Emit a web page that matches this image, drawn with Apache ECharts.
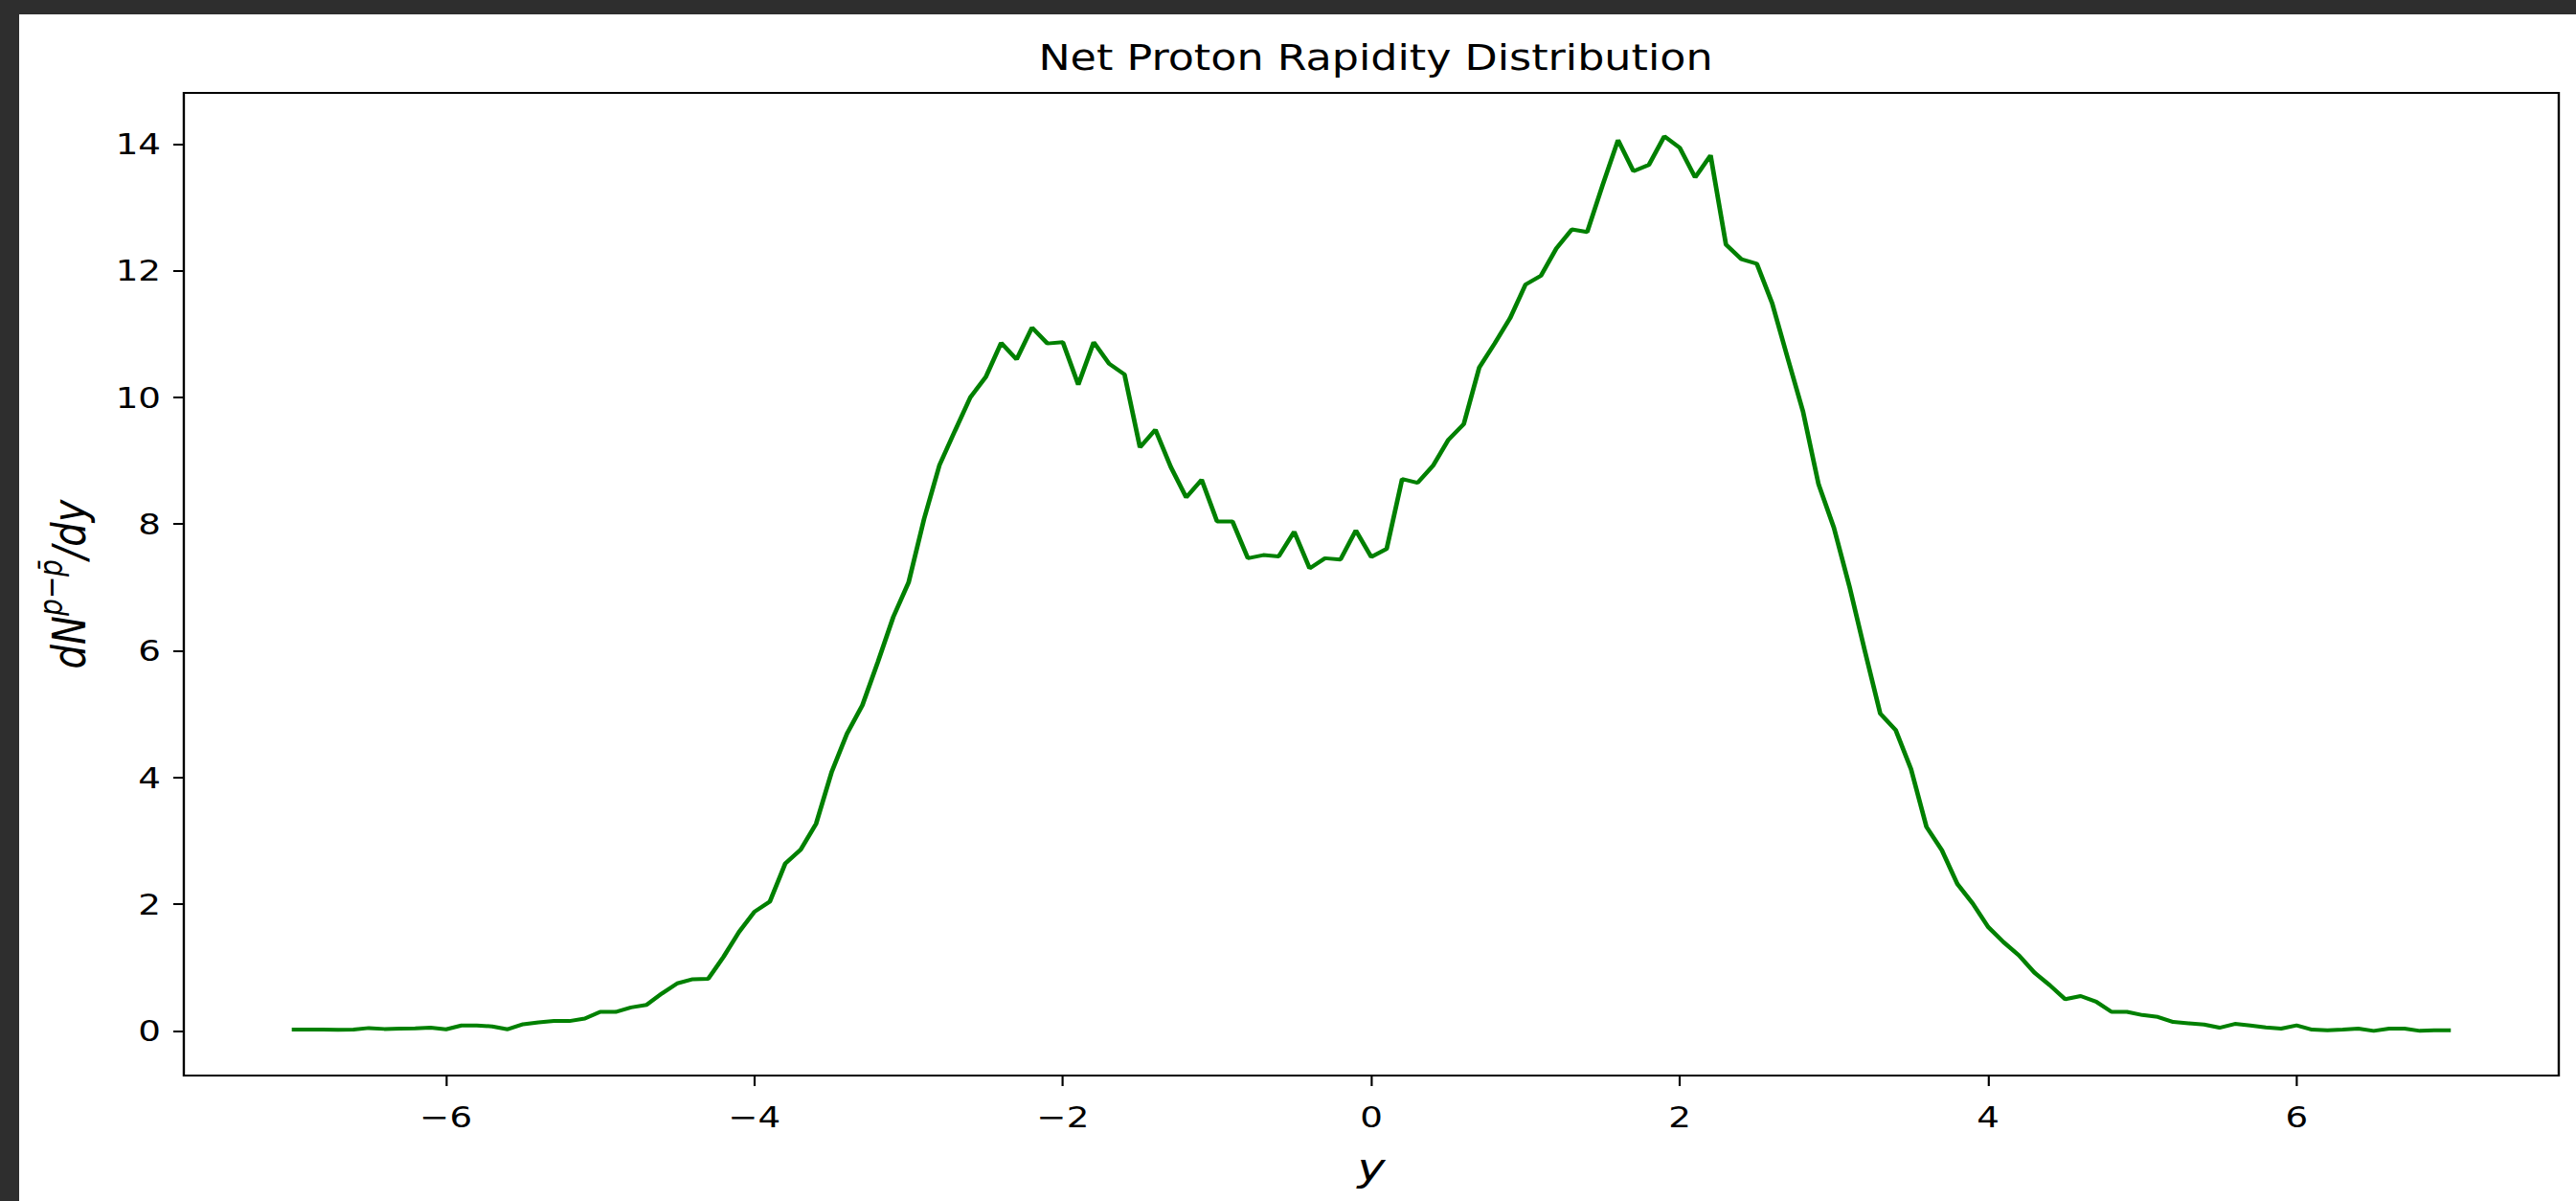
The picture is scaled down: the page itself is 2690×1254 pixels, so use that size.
<!DOCTYPE html>
<html>
<head>
<meta charset="utf-8">
<script src="https://cdn.jsdelivr.net/npm/echarts@6/dist/echarts.min.js"></script>
<style>
html, body { margin: 0; padding: 0; width: 2690px; height: 1254px; background: #2e2e2e; overflow: hidden; }
#chart { position: absolute; left: 20px; top: 15px; width: 2225px; height: 1239px; background: #ffffff;
         transform: scaleX(1.2); transform-origin: 0 0; }
</style>
</head>
<body>
<div id="chart"></div>
<script>
// Rapidity bins (y)
const rapidity = [
  -7.0, -6.9, -6.8, -6.7, -6.6, -6.5, -6.4, -6.3, -6.2, -6.1,
  -6.0, -5.9, -5.8, -5.7, -5.6, -5.5, -5.4, -5.3, -5.2, -5.1,
  -5.0, -4.9, -4.8, -4.7, -4.6, -4.5, -4.4, -4.3, -4.2, -4.1,
  -4.0, -3.9, -3.8, -3.7, -3.6, -3.5, -3.4, -3.3, -3.2, -3.1,
  -3.0, -2.9, -2.8, -2.7, -2.6, -2.5, -2.4, -2.3, -2.2, -2.1,
  -2.0, -1.9, -1.8, -1.7, -1.6, -1.5, -1.4, -1.3, -1.2, -1.1,
  -1.0, -0.9, -0.8, -0.7, -0.6, -0.5, -0.4, -0.3, -0.2, -0.1,
   0.0,  0.1,  0.2,  0.3,  0.4,  0.5,  0.6,  0.7,  0.8,  0.9,
   1.0,  1.1,  1.2,  1.3,  1.4,  1.5,  1.6,  1.7,  1.8,  1.9,
   2.0,  2.1,  2.2,  2.3,  2.4,  2.5,  2.6,  2.7,  2.8,  2.9,
   3.0,  3.1,  3.2,  3.3,  3.4,  3.5,  3.6,  3.7,  3.8,  3.9,
   4.0,  4.1,  4.2,  4.3,  4.4,  4.5,  4.6,  4.7,  4.8,  4.9,
   5.0,  5.1,  5.2,  5.3,  5.4,  5.5,  5.6,  5.7,  5.8,  5.9,
   6.0,  6.1,  6.2,  6.3,  6.4,  6.5,  6.6,  6.7,  6.8,  6.9,
   7.0
];
// dN^{p - pbar}/dy values
const netProton = [
  0.02, 0.02, 0.02, 0.015, 0.02, 0.045, 0.03, 0.035, 0.04, 0.05,
  0.025, 0.085, 0.085, 0.07, 0.025, 0.105, 0.135, 0.155, 0.155, 0.195,
  0.30, 0.30, 0.37, 0.41, 0.59, 0.75, 0.815, 0.82, 1.17, 1.56,
  1.88, 2.04, 2.64, 2.86, 3.27, 4.08, 4.69, 5.14, 5.82, 6.53,
  7.08, 8.08, 8.93, 9.47, 10.00, 10.32, 10.86, 10.60, 11.10, 10.85,
  10.87, 10.20, 10.87, 10.53, 10.36, 9.21, 9.49, 8.90, 8.42, 8.70,
  8.04, 8.04, 7.46, 7.51, 7.49, 7.88, 7.30, 7.46, 7.44, 7.90,
  7.48, 7.61, 8.71, 8.65, 8.92, 9.33, 9.58, 10.47, 10.85, 11.25,
  11.78, 11.92, 12.35, 12.65, 12.61, 13.35, 14.06, 13.57, 13.67, 14.12,
  13.94, 13.47, 13.82, 12.41, 12.18, 12.11, 11.48, 10.62, 9.77, 8.63,
  7.94, 7.02, 6.00, 5.01, 4.75, 4.13, 3.22, 2.85, 2.32, 2.01,
  1.64, 1.40, 1.19, 0.92, 0.72, 0.50, 0.55, 0.46, 0.30, 0.30,
  0.25, 0.22, 0.14, 0.12, 0.10, 0.05, 0.11, 0.086, 0.056, 0.036,
  0.086, 0.02, 0.01, 0.02, 0.036, 0.00, 0.036, 0.036, 0.00, 0.01,
  0.01
];
const xTicks = [-6, -4, -2, 0, 2, 4, 6];
const yTicks = [0, 2, 4, 6, 8, 10, 12, 14];
const titleText = 'Net Proton Rapidity Distribution';
const xName = 'y';
const yName = '{a|dN}{b|p\u2212p\u0304}{a|/dy}';

const seriesData = rapidity.map((x, i) => [x, netProton[i]]);
const fmt = v => String(v).replace('-', '\u2212');
const FONT = 'DejaVu Sans';

const GRID_LEFT = 143.3, GRID_RIGHT = 15, CHART_W = 2225;

const chart = echarts.init(document.getElementById('chart'), null, { renderer: 'svg' });
chart.setOption({
  animation: false,
  backgroundColor: '#ffffff',
  title: {
    text: titleText,
    left: 882,
    top: 22,
    textStyle: { fontFamily: FONT, fontSize: 37, fontWeight: 'normal', color: '#000' }
  },
  grid: {
    left: GRID_LEFT, right: GRID_RIGHT, top: 82, bottom: 131,
    show: true, borderColor: '#000', borderWidth: 2, backgroundColor: 'transparent',
    outerBoundsMode: 'none', containLabel: false
  },
  xAxis: {
    type: 'value', min: -7.7, max: 7.7,
    name: xName, nameLocation: 'middle', nameGap: 75,
    nameTextStyle: { fontFamily: FONT, fontStyle: 'italic', fontSize: 41, lineHeight: 41, color: '#000' },
    axisLine: { show: false, onZero: false },
    splitLine: { show: false },
    axisTick: { show: true, inside: false, length: 11, customValues: xTicks, lineStyle: { color: '#000', width: 1.8 } },
    axisLabel: { show: true, margin: 28, customValues: xTicks, formatter: fmt,
      fontFamily: FONT, fontSize: 31, color: '#000' }
  },
  yAxis: {
    type: 'value', min: -0.705, max: 14.805,
    name: yName, nameLocation: 'middle', nameGap: 85, nameRotate: 90,
    nameTextStyle: {
      fontFamily: FONT, fontStyle: 'italic', fontSize: 40, color: '#000',
      rich: {
        a: { fontFamily: FONT, fontStyle: 'italic', fontSize: 40, lineHeight: 40, padding: [10, 0, 0, 0], color: '#000' },
        b: { fontFamily: FONT, fontStyle: 'italic', fontSize: 28, lineHeight: 28, padding: [0, 0, 22, 0], color: '#000' }
      }
    },
    axisLine: { show: false, onZero: false },
    splitLine: { show: false },
    axisTick: { show: true, inside: false, length: 9.2, customValues: yTicks, lineStyle: { color: '#000', width: 2 } },
    axisLabel: { show: true, margin: 20, customValues: yTicks, formatter: fmt,
      fontFamily: FONT, fontSize: 31, color: '#000' }
  },
  series: [{
    type: 'line',
    data: seriesData,
    showSymbol: false,
    symbol: 'none',
    lineStyle: { color: '#008000', width: 4 },
    z: 3
  }]
});
</script>
</body>
</html>
